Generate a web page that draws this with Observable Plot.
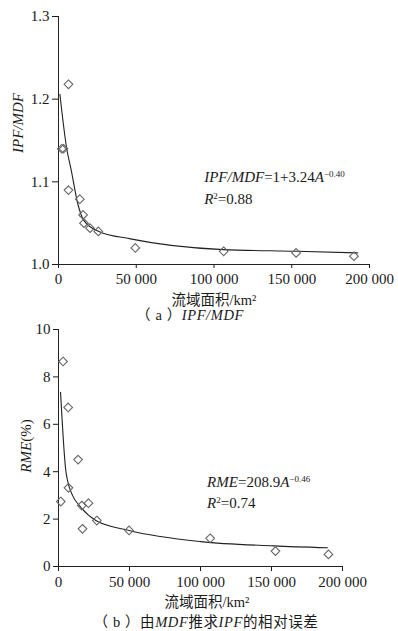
<!DOCTYPE html>
<html>
<head>
<meta charset="utf-8">
<script src="https://cdn.jsdelivr.net/npm/d3@7"></script>
<script src="https://cdn.jsdelivr.net/npm/@observablehq/plot@0.6"></script>
<style>
  html, body { margin: 0; padding: 0; background: #fff; }
  #wrap { position: relative; width: 398px; height: 631px; overflow: hidden; background: #fff;
          font-family: "Liberation Serif", "Times New Roman", "Noto Sans CJK SC", serif; color: #1a1a1a; }
  #wrap svg { position: absolute; left: 0; }
  #wrap svg, #wrap svg text { font-family: "Liberation Serif", "Times New Roman", serif !important; }
  .lbl { position: absolute; transform: translate(-50%, -50%); white-space: nowrap; font-size: 14.5px; line-height: 1; }
  .cap { letter-spacing: 0.6px; }
  .lbl i { font-family: "Liberation Serif", "Times New Roman", serif; }
</style>
</head>
<body>
<div id="wrap"></div>
<script>
// ---------- data ----------
// Panel (a): IPF/MDF vs basin area
const areaA  = [2100, 3200, 6400, 6400, 13700, 15800, 16400, 20300, 25600, 49400, 106200, 152800, 190000];
const ratioA = [1.140, 1.140, 1.218, 1.090, 1.079, 1.060, 1.050, 1.044, 1.040, 1.020, 1.016, 1.014, 1.010];
// fitted curve (a) as drawn
const fitAreaA  = [900, 5300, 8300, 12200, 16400, 26000, 46300, 106000, 153400, 192500];
const fitValueA = [1.206, 1.140, 1.113, 1.075, 1.053, 1.040, 1.031, 1.018, 1.016, 1.014];

// Panel (b): RME (%) vs basin area
const areaB = [1600, 3200, 6800, 7000, 13800, 16400, 16900, 21100, 27000, 49700, 106800, 152800, 190100];
const rmeB  = [2.74, 8.65, 6.71, 3.32, 4.51, 2.57, 1.59, 2.67, 1.94, 1.52, 1.19, 0.65, 0.51];
// fitted curve (b) as drawn
const fitAreaB  = [1450, 5140, 6340, 9860, 15700, 26300, 49700, 100200, 151600, 189400];
const fitValueB = [7.35, 4.05, 3.63, 3.00, 2.50, 1.94, 1.52, 1.05, 0.87, 0.79];

// ticks
const xTicks  = [0, 50000, 100000, 150000, 200000];
const yTicksA = [1.0, 1.1, 1.2, 1.3];
const yTicksB = [0, 2, 4, 6, 8, 10];

// ---------- helpers ----------
const fmtX = d => d === 0 ? "0" : d3.format(",")(d).replace(/,/g, " ");
const wrap = document.getElementById("wrap");
const FONT = "'Liberation Serif', 'Times New Roman', serif";

function rich(svg, x, y, parts, size) {
  const t = d3.select(svg).append("text")
    .attr("x", x).attr("y", y)
    .attr("text-anchor", "start")
    .attr("fill", "#1a1a1a")
    .style("font-size", size + "px");
  parts.forEach(p => {
    const ts = t.append("tspan").text(p.t);
    if (p.i) ts.style("font-style", "italic");
    if (p.sup) ts.attr("dy", -5).style("font-size", "9px");
    if (p.after) ts.attr("dy", 5);
  });
  return t;
}
function yLabel(svg, cx, cy, parts) {
  const t = d3.select(svg).append("text")
    .attr("transform", `translate(${cx},${cy}) rotate(-90)`)
    .attr("text-anchor", "middle").attr("dy", "0.35em")
    .attr("fill", "#1a1a1a")
    .style("font-size", "15px");
  parts.forEach(p => {
    const ts = t.append("tspan").text(p.t);
    if (p.i) ts.style("font-style", "italic");
  });
}
function addLabel(html, cx, cy, cls) {
  const d = document.createElement("div");
  d.className = "lbl" + (cls ? " " + cls : "");
  d.style.left = cx + "px"; d.style.top = cy + "px";
  d.innerHTML = html;
  wrap.appendChild(d);
}

const style = {fontSize: "15px", color: "#1a1a1a", background: "transparent", overflow: "visible"};

// ---------- panel (a) ----------
const ptsA = areaA.map((a, i) => ({a, v: ratioA[i]}));
const fitA = fitAreaA.map((a, i) => ({a, v: fitValueA[i]}));
const plotA = Plot.plot({
  width: 398, height: 292,
  marginLeft: 58, marginRight: 29, marginTop: 16, marginBottom: 28,
  style,
  x: {domain: [0, 200000], ticks: xTicks, tickFormat: fmtX, tickSize: 4, tickPadding: 5, label: null},
  y: {domain: [1.0, 1.3], ticks: yTicksA, tickFormat: d3.format(".1f"), tickSize: 6, tickPadding: 3, label: null},
  marks: [
    Plot.ruleX([0], {y1: 1.0, y2: 1.3, stroke: "#222"}),
    Plot.ruleY([1.0], {x1: 0, x2: 200000, stroke: "#222"}),
    Plot.line(fitA, {x: "a", y: "v", stroke: "#222", strokeWidth: 1.1, curve: "monotone-x"}),
    Plot.dot(ptsA, {x: "a", y: "v", symbol: "diamond2", r: 3.9, stroke: "#666", strokeWidth: 1.1, fill: "none"})
  ]
});
plotA.style.top = "0px";
wrap.appendChild(plotA);
{
  const sx = plotA.scale("x"), sy = plotA.scale("y");
  const x0 = sx.apply(94000), y0 = sy.apply(1.1);
  rich(plotA, x0, y0 + 1, [
    {t: "IPF/MDF", i: true}, {t: "=1+3.24"}, {t: "A", i: true},
    {t: "−0.40", sup: true}
  ], 15);
  rich(plotA, x0, y0 + 23, [
    {t: "R", i: true}, {t: "2", sup: true}, {t: "=0.88", after: true}
  ], 15);
  yLabel(plotA, 18, 123, [{t: "IPF/MDF", i: true}]);
}
addLabel("流域面积/km²", 214, 299.5);
addLabel("（ a ）<i>IPF/MDF</i>", 190, 314.5, "cap");

// ---------- panel (b) ----------
const ptsB = areaB.map((a, i) => ({a, v: rmeB[i]}));
const fitB = fitAreaB.map((a, i) => ({a, v: fitValueB[i]}));
const plotB = Plot.plot({
  width: 398, height: 282,
  marginLeft: 58, marginRight: 56, marginTop: 19, marginBottom: 26,
  style,
  x: {domain: [0, 200000], ticks: xTicks, tickFormat: fmtX, tickSize: 5, tickPadding: 5, label: null},
  y: {domain: [0, 10], ticks: yTicksB, tickFormat: d3.format("d"), tickSize: 5, tickPadding: 3, label: null},
  marks: [
    Plot.ruleX([0], {y1: 0, y2: 10, stroke: "#222"}),
    Plot.ruleY([0], {x1: 0, x2: 200000, stroke: "#222"}),
    Plot.line(fitB, {x: "a", y: "v", stroke: "#222", strokeWidth: 1.1, curve: "monotone-x"}),
    Plot.dot(ptsB, {x: "a", y: "v", symbol: "diamond2", r: 3.9, stroke: "#666", strokeWidth: 1.1, fill: "none"})
  ]
});
plotB.style.top = "310px";
wrap.appendChild(plotB);
{
  const sx = plotB.scale("x"), sy = plotB.scale("y");
  const x0 = sx.apply(105000), y0 = sy.apply(3.35);
  rich(plotB, x0, y0, [
    {t: "RME", i: true}, {t: "=208.9"}, {t: "A", i: true},
    {t: "−0.46", sup: true}
  ], 15);
  rich(plotB, x0, y0 + 21, [
    {t: "R", i: true}, {t: "2", sup: true}, {t: "=0.74", after: true}
  ], 15);
  yLabel(plotB, 25.5, 136, [{t: "RME", i: true}, {t: "(%)"}]);
}
addLabel("流域面积/km²", 207, 601.5);
addLabel("（ b ）由<i>MDF</i>推求<i>IPF</i>的相对误差", 206, 621.5, "cap");
</script>
</body>
</html>
